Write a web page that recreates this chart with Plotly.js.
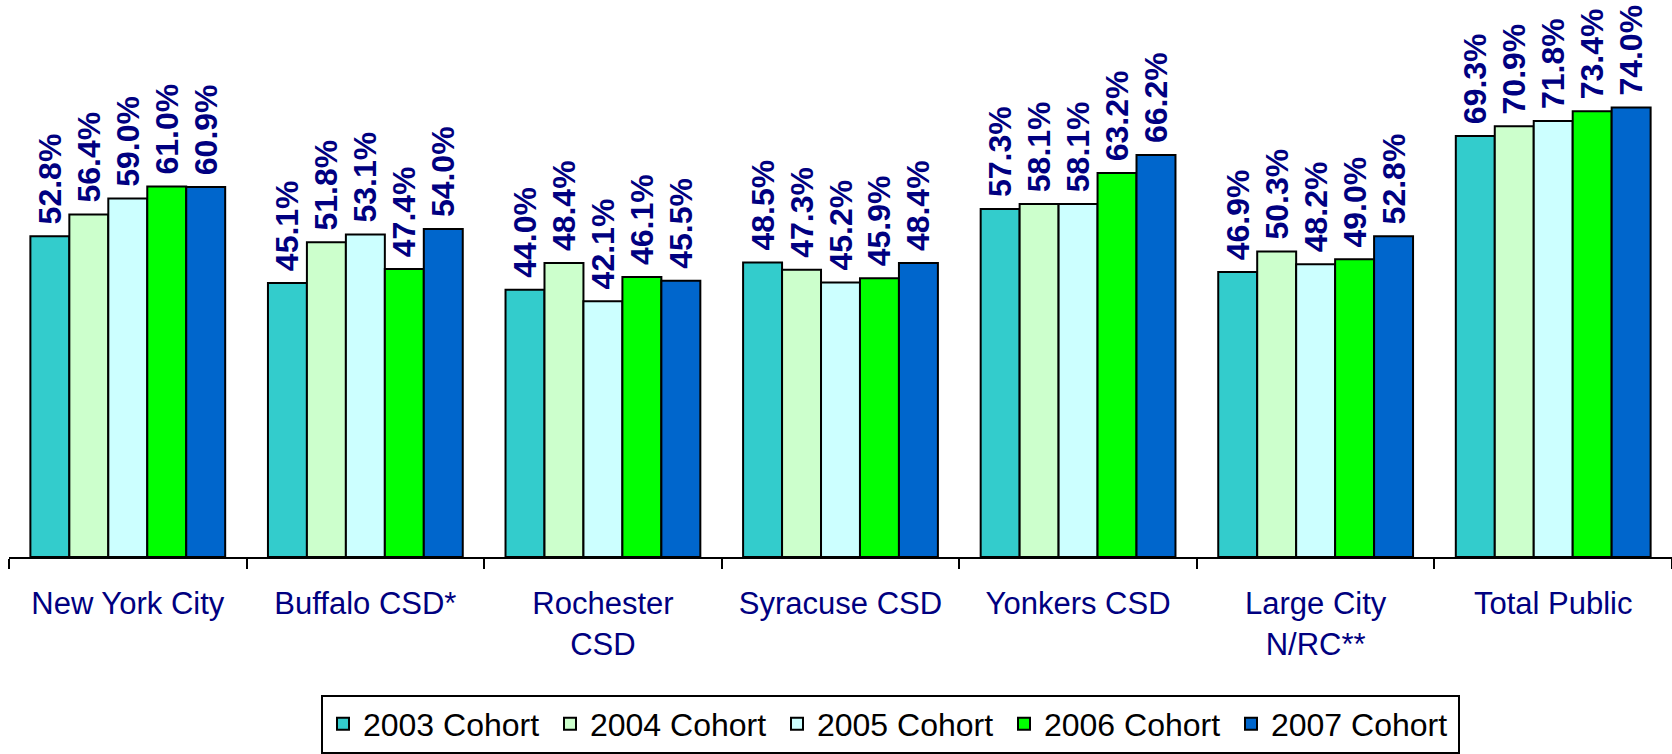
<!DOCTYPE html>
<html>
<head>
<meta charset="utf-8">
<script src="https://cdn.plot.ly/plotly-3.0.1.min.js"></script>
<style>html,body{margin:0;padding:0;background:#fff;}#chart{width:1672px;height:754px;}</style>
</head>
<body>
<div id="chart"></div>
<script>
const categories = ["New York City", "Buffalo CSD*", "Rochester<br>CSD", "Syracuse CSD", "Yonkers CSD", "Large City<br>N/RC**", "Total Public"];
const seriesNames = ["2003 Cohort", "2004 Cohort", "2005 Cohort", "2006 Cohort", "2007 Cohort"];
const cohort2003 = [52.8, 45.1, 44.0, 48.5, 57.3, 46.9, 69.3];
const cohort2004 = [56.4, 51.8, 48.4, 47.3, 58.1, 50.3, 70.9];
const cohort2005 = [59.0, 53.1, 42.1, 45.2, 58.1, 48.2, 71.8];
const cohort2006 = [61.0, 47.4, 46.1, 45.9, 63.2, 49.0, 73.4];
const cohort2007 = [60.9, 54.0, 45.5, 48.4, 66.2, 52.8, 74.0];
const seriesValues = [cohort2003, cohort2004, cohort2005, cohort2006, cohort2007];
const seriesColors = ["#33CCCC", "#CCFFCC", "#CCFFFF", "#00FF00", "#0066CC"];

const FONT = "Liberation Sans, Arial, sans-serif";
const traces = seriesValues.map((vals, i) => ({
  type: "bar",
  name: seriesNames[i],
  x: categories,
  y: vals,
  text: vals.map(v => " " + v.toFixed(1) + "%"),
  textposition: "outside",
  textangle: -90,
  constraintext: "none",
  cliponaxis: false,
  textfont: {family: FONT, size: 32, color: "#000080", weight: "bold"},
  marker: {color: seriesColors[i], line: {color: "#000000", width: 2}},
  hoverinfo: "none"
}));

const layout = {
  width: 1672,
  height: 754,
  margin: {l: 9, r: 0, t: 0, b: 195},
  paper_bgcolor: "#ffffff",
  plot_bgcolor: "#ffffff",
  barmode: "group",
  bargap: 0.18,
  bargroupgap: 0,
  showlegend: true,
  legend: {
    orientation: "h",
    x: 0.1876, xanchor: "left",
    y: -0.2469, yanchor: "top",
    font: {family: FONT, size: 32, color: "#000000"},
    entrywidth: 182,
    bordercolor: "#000000",
    borderwidth: 2,
    bgcolor: "#ffffff",
    traceorder: "normal"
  },
  xaxis: {
    type: "category",
    showline: true,
    linecolor: "#000000",
    linewidth: 2,
    ticks: "outside",
    tickson: "boundaries",
    ticklen: 10,
    tickwidth: 2,
    tickcolor: "#000000",
    ticklabelstandoff: 18,
    showgrid: false,
    tickfont: {family: FONT, size: 31, color: "#000080"},
    fixedrange: true
  },
  yaxis: {
    range: [0, 91.7],
    showgrid: false,
    showline: false,
    zeroline: false,
    showticklabels: false,
    ticks: "",
    fixedrange: true
  }
};

Plotly.newPlot("chart", traces, layout, {displayModeBar: false, staticPlot: true});
</script>
</body>
</html>
